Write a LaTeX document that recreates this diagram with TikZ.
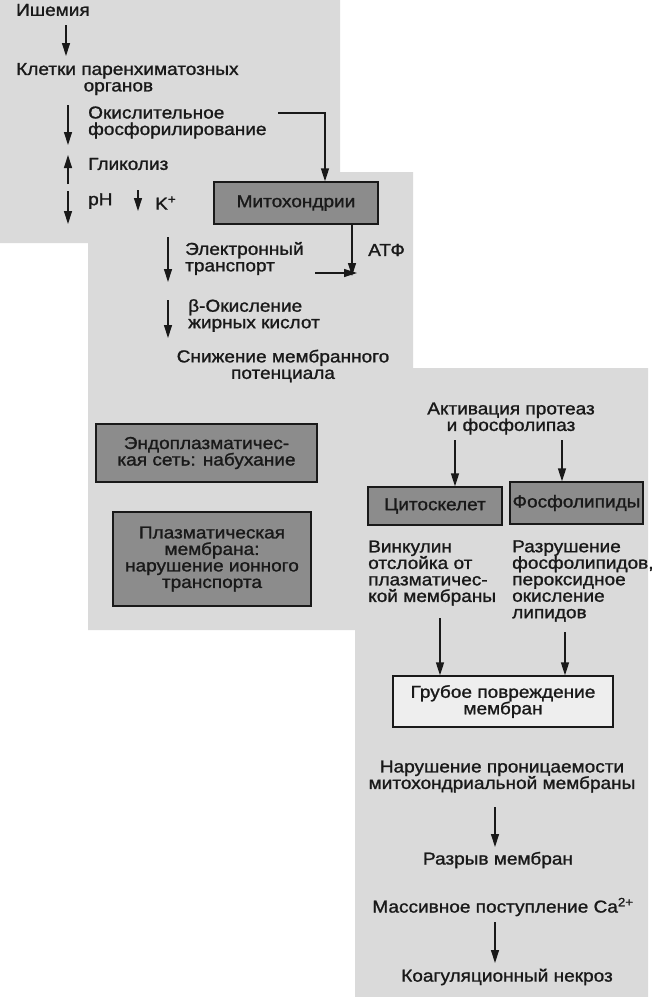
\documentclass[tikz,border=0pt]{standalone}
\usepackage{fontspec}
\setmainfont{Liberation Sans}[FakeStretch=1.1,FakeBold=1.2]
\usetikzlibrary{arrows.meta}
\definecolor{panel}{RGB}{218,218,218}
\definecolor{boxfill}{RGB}{140,140,140}
\definecolor{ink}{RGB}{25,25,25}
\definecolor{lightfill}{RGB}{238,238,238}
\tikzset{
  lbl/.style={inner sep=0pt, text=ink, font=\fontsize{17.3}{16.5}\selectfont},
  ltxt/.style={lbl, anchor=west, align=left},
  ctxt/.style={lbl, align=center},
  gbox/.style={draw=ink, line width=1.3pt, fill=boxfill, lbl, align=center},
  wbox/.style={draw=ink, line width=1.3pt, fill=lightfill, lbl, align=center},
  arr/.style={draw=ink, line width=1.3pt, -{Triangle[length=13pt,width=8pt]}},
}
\begin{document}
\begin{tikzpicture}[x=1pt,y=-1pt]
\useasboundingbox (0,0) rectangle (654,997);
\fill[panel] (0,0) -- (340,0) -- (340,172) -- (413,172) -- (413,368) -- (648,368)
  -- (648,997) -- (355,997) -- (355,630) -- (88,630) -- (88,243) -- (0,243) -- cycle;

% texts, panel A
\node[ltxt] (ish) at (16,10) {Ишемия};
\node[lbl, anchor=west, align=center] (klet) at (16,79) {Клетки паренхиматозных\\органов\hspace*{18pt}};
\node[ltxt] (okis) at (88,122.5) {Окислительное\\фосфорилирование};
\node[ltxt] (glik) at (88,164) {Гликолиз};
\node[ltxt] (ph) at (88,201) {pH};
\node[ltxt] (kplus) at (155,203) {K\textsuperscript{+}};

% panel B
\node[gbox, minimum width=164pt, minimum height=42pt] (mito) at (296,203) {Митохондрии};
\node[ltxt] (elek) at (185,258.5) {Электронный\\транспорт};
\node[ltxt] (atf) at (368,250) {АТФ};
\node[ltxt] (beta) at (188,315.5) {β-Окисление\\жирных кислот};
\node[ctxt] (snizh) at (283,366) {Снижение мембранного\\потенциала};

% panel C
\node[gbox, minimum width=221pt, minimum height=58pt] (er) at (206.5,453) {Эндоплазматичес-\\кая сеть: набухание};
\node[gbox, minimum width=198pt, minimum height=94pt] (pm) at (212,559) {Плазматическая\\мембрана:\\нарушение ионного\\транспорта};
\node[ctxt] (aktiv) at (511,418.5) {Активация протеаз\\и фосфолипаз};
\node[gbox, minimum width=134pt, minimum height=38pt] (cyto) at (435,506) {Цитоскелет};
\node[gbox, minimum width=133pt, minimum height=42pt] (phos) at (576.5,503) {Фосфолипиды};
\node[ltxt] (vink) at (368,573) {Винкулин\\отслойка от\\плазматичес-\\кой мембраны};
\node[ltxt] (razr) at (512,581) {Разрушение\\фосфолипидов,\\пероксидное\\окисление\\липидов};

% panel D
\node[wbox, minimum width=220pt, minimum height=51pt] (grub) at (503,701.5) {Грубое повреждение\\мембран};
\node[ctxt] (narush) at (502,776.5) {Нарушение проницаемости\\митохондриальной мембраны};
\node[ctxt] (razryv) at (498,860) {Разрыв мембран};
\node[ctxt] (mass) at (503,907) {Массивное поступление Ca\textsuperscript{2+}};
\node[ctxt] (koag) at (507,977) {Коагуляционный некроз};

% arrow end points
\coordinate (a1s) at (66,25);   \coordinate (a1e) at (66,56);
\coordinate (a2s) at (68,105);  \coordinate (a2e) at (68,145);
\coordinate (a3s) at (68,184);  \coordinate (a3e) at (68,155);
\coordinate (a4s) at (68,191);  \coordinate (a4e) at (68,224);
\coordinate (a5s) at (138,190); \coordinate (a5e) at (138,211);
\coordinate (a6s) at (278,113); \coordinate (a6c) at (325,113);
\coordinate (a7e) at (352,276);
\coordinate (a8s) at (315,273); \coordinate (a8e) at (357,273);
\coordinate (a9s) at (168,237); \coordinate (a9e) at (168,282);
\coordinate (a10s) at (168,300); \coordinate (a10e) at (168,338);
\coordinate (a11s) at (455,440);
\coordinate (a12s) at (562,440);
\coordinate (a13s) at (440,618);
\coordinate (a14s) at (565,632);
\coordinate (a15s) at (495,807); \coordinate (a15e) at (495,847);
\coordinate (a16s) at (495,922); \coordinate (a16e) at (495,963);

\draw[arr] (a1s) -- (a1e);
\draw[arr] (a2s) -- (a2e);
\draw[arr] (a3s) -- (a3e);
\draw[arr] (a4s) -- (a4e);
\draw[arr] (a5s) -- (a5e);
\draw[arr] (a6s) -- (a6c) -- (a6c |- mito.north);
\draw[arr] (mito.south -| a7e) -- (a7e);
\draw[arr] (a8s) -- (a8e);
\draw[arr] (a9s) -- (a9e);
\draw[arr] (a10s) -- (a10e);
\draw[arr] (a11s) -- (a11s |- cyto.north);
\draw[arr] (a12s) -- (a12s |- phos.north);
\draw[arr] (a13s) -- (a13s |- grub.north);
\draw[arr] (a14s) -- (a14s |- grub.north);
\draw[arr] (a15s) -- (a15e);
\draw[arr] (a16s) -- (a16e);
\end{tikzpicture}
\end{document}
